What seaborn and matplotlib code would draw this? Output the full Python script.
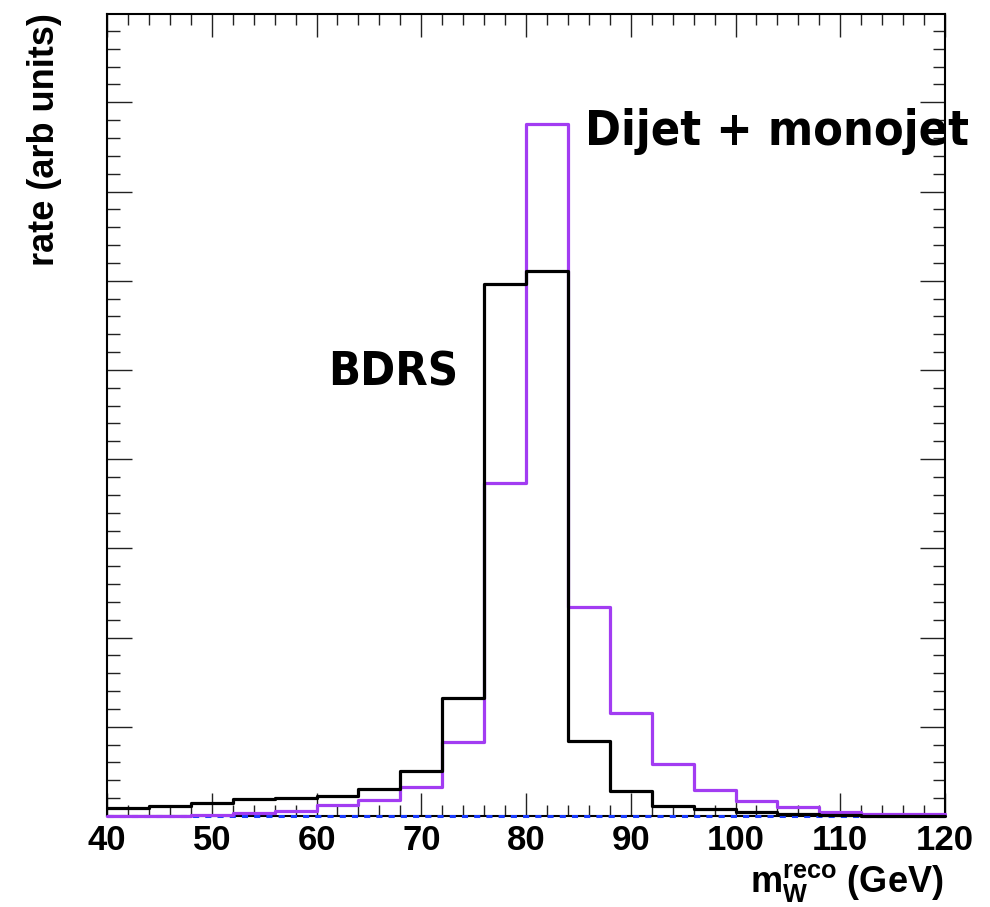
import numpy as np
import matplotlib
matplotlib.use("Agg")
import matplotlib.pyplot as plt
from matplotlib.ticker import MultipleLocator
import seaborn as sns

# bin edges of the reconstructed W mass histogram (GeV)
bin_edges = list(range(40, 124, 4))
bin_centers = [e + 2 for e in bin_edges[:-1]]

# BDRS (black), arbitrary units
bdrs_rate = [0.093, 0.11, 0.142, 0.187, 0.20, 0.224, 0.306, 0.504, 1.32, 5.96,
             6.11, 0.84, 0.277, 0.108, 0.078, 0.041, 0.022, 0.008, 0.0, 0.0]
# Dijet + monojet (violet)
dijet_rate = [0.0, 0.0, 0.011, 0.03, 0.056, 0.12, 0.18, 0.325, 0.826, 3.73,
              7.76, 2.34, 1.16, 0.587, 0.29, 0.164, 0.105, 0.045, 0.022, 0.022]
# third (empty) histogram drawn dashed blue on the baseline
other_rate = [0.0] * 20

sns.set_style("ticks")
plt.rcParams['font.family'] = ['Liberation Sans', 'DejaVu Sans']
plt.rcParams['text.color'] = 'black'
plt.rcParams['xtick.labelcolor'] = 'black'
plt.rcParams['mathtext.fontset'] = 'custom'
plt.rcParams['mathtext.bf'] = 'Liberation Sans:bold'
plt.rcParams['mathtext.rm'] = 'Liberation Sans:bold'

fig = plt.figure(figsize=(9.9, 9.07), dpi=100)
ax = fig.add_axes([107 / 990, 1 - 816 / 907, 838 / 990, 802 / 907])

sns.histplot(x=bin_centers, weights=other_rate, bins=bin_edges, element="step",
             fill=False, color="#1a3cff", linewidth=2.2, linestyle=(0, (2, 2)), ax=ax)
sns.histplot(x=bin_centers, weights=dijet_rate, bins=bin_edges, element="step",
             fill=False, color="#a23cf2", linewidth=2.3, ax=ax)
sns.histplot(x=bin_centers, weights=bdrs_rate, bins=bin_edges, element="step",
             fill=False, color="black", linewidth=2.3, ax=ax)
for z, ln in zip([3, 4, 5], ax.lines):
    ln.set_zorder(z)
    ln.set_clip_on(False)

ax.set_xlim(40, 120)
ax.set_ylim(0, 8.99)
ax.set_xlabel("")
ax.set_ylabel("")
ax.xaxis.set_major_locator(MultipleLocator(10))
ax.xaxis.set_minor_locator(MultipleLocator(2))
ax.yaxis.set_major_locator(MultipleLocator(1))
ax.yaxis.set_minor_locator(MultipleLocator(0.2))
ax.tick_params(axis='both', which='both', direction='in', top=True, right=True,
               width=1.0, color='#222222')
ax.tick_params(axis='x', which='major', length=16.5, pad=6, labelsize=25)
ax.tick_params(axis='x', which='minor', length=8)
ax.tick_params(axis='y', which='major', length=18, labelleft=False)
ax.tick_params(axis='y', which='minor', length=9)
for lab in ax.get_xticklabels():
    lab.set_fontweight('bold')
for sp in ax.spines.values():
    sp.set_linewidth(1.5)
    sp.set_color('black')

# axis titles, ROOT style (aligned to the axis ends)
fig.text(45 / 990, 1 - 13 / 907, "rate (arb units)", rotation=90, ha='center',
         va='top', fontsize=26, fontweight='bold')
fig.text(943 / 990, 1 - 892 / 907, r"$\mathbf{m_{W}^{reco}}$ (GeV)", ha='right',
         va='baseline', fontsize=26, fontweight='bold')

# handwritten-style labels
t1 = fig.text(585 / 990, 1 - 145 / 907, "Dijet + monojet", ha='left', va='baseline',
              fontsize=40, fontweight='bold', family='DejaVu Sans', fontstretch='condensed')
t2 = fig.text(328 / 990, 1 - 386 / 907, "BDRS", ha='left', va='baseline',
              fontsize=40, fontweight='bold', family='DejaVu Sans', fontstretch='condensed')
fig.canvas.draw()
r = fig.canvas.get_renderer()
for t, w in [(t1, 383), (t2, 130)]:
    bb = t.get_window_extent(r)
    t.set_fontsize(t.get_fontsize() * w / bb.width)

fig.savefig("out.png", dpi=100)
